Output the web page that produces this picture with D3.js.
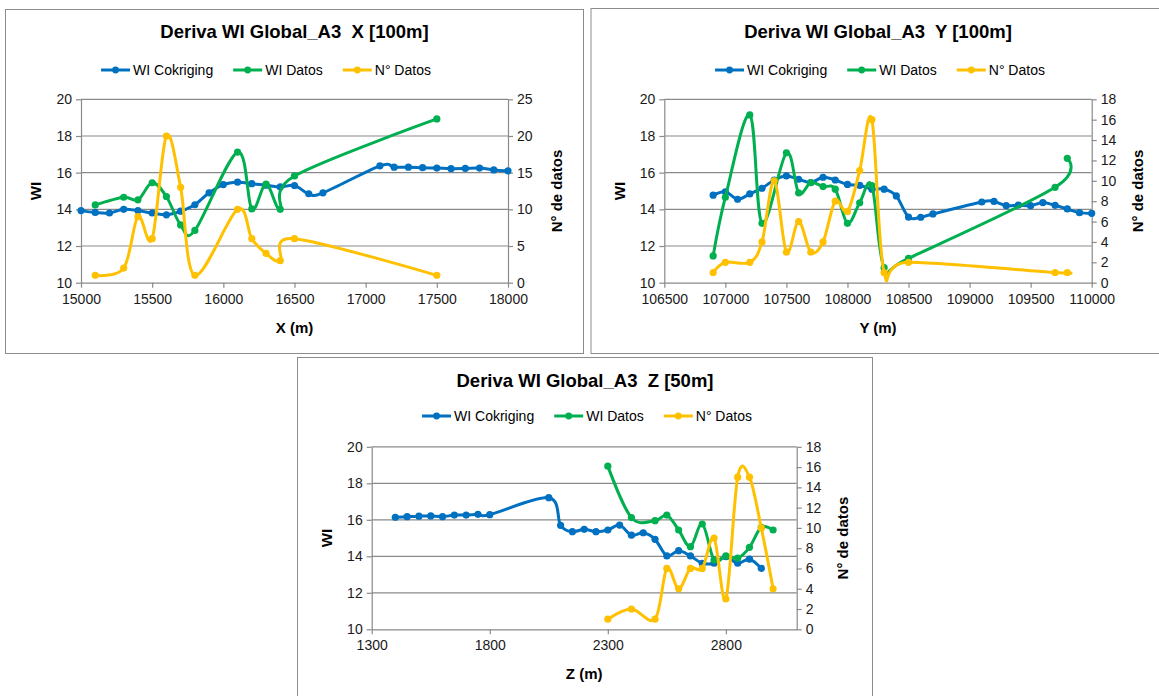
<!DOCTYPE html>
<html><head><meta charset="utf-8">
<script src="https://cdn.jsdelivr.net/npm/d3@7"></script>
<style>
html,body{margin:0;padding:0;background:#fff;}
svg{display:block;font-family:"Liberation Sans",Arial,sans-serif;}
</style></head>
<body>
<svg id="c" width="1159" height="696"></svg>
<script>
// ---------- Chart X ----------
const xCokX = [15000,15100,15200,15300,15400,15500,15600,15700,15800,15900,16000,16100,16200,16300,16400,16500,16600,16700,17100,17200,17300,17400,17500,17600,17700,17800,17900,18000];
const xCokWI = [13.93,13.83,13.8,14.0,13.93,13.8,13.7,13.9,14.25,14.9,15.35,15.48,15.4,15.32,15.22,15.3,14.85,14.9,16.37,16.3,16.3,16.27,16.25,16.22,16.23,16.25,16.15,16.1];
const xDatX = [15100,15300,15400,15500,15600,15700,15800,16100,16200,16300,16400,16500,17500];
const xDatWI = [14.24,14.66,14.52,15.45,14.7,13.15,12.85,17.12,14.02,15.38,14.0,15.82,18.93];
const xNumX = [15100,15300,15400,15500,15600,15700,15800,16100,16200,16300,16400,16500,17500];
const xNum = [1,2,9,6,20,13,1,10,6,4,3,6,1];

// ---------- Chart Y ----------
const yCokX = [106900,107000,107100,107200,107300,107400,107500,107600,107700,107800,107900,108000,108100,108200,108300,108400,108500,108600,108700,109100,109200,109300,109400,109500,109600,109700,109800,109900,110000];
const yCokWI = [14.77,14.96,14.55,14.84,15.15,15.6,15.82,15.64,15.46,15.75,15.6,15.36,15.31,15.1,15.1,14.73,13.58,13.57,13.75,14.4,14.43,14.2,14.23,14.2,14.37,14.22,14.02,13.82,13.78];
const yDatX = [106900,107000,107200,107300,107500,107600,107700,107800,107900,108000,108100,108200,108300,108500,109700,109800];
const yDatWI = [11.46,14.66,19.15,13.24,17.08,14.9,15.46,15.24,15.1,13.24,14.36,15.3,10.82,11.33,15.2,16.78];
const yNumX = [106900,107000,107200,107300,107400,107500,107600,107700,107800,107900,108000,108100,108200,108300,108500,109700,109800];
const yNum = [1,2,2,4,10,3,6,3,4,8,7,11,16,1,2,1,1];

// ---------- Chart Z ----------
const zCokX = [1400,1450,1500,1550,1600,1650,1700,1750,1800,2050,2100,2150,2200,2250,2300,2350,2400,2450,2500,2550,2600,2650,2700,2750,2800,2850,2900,2950];
const zCokWI = [16.14,16.17,16.2,16.21,16.17,16.26,16.26,16.3,16.28,17.21,15.7,15.35,15.48,15.35,15.44,15.71,15.16,15.29,14.93,14.02,14.31,14.02,13.62,13.62,13.98,13.62,13.84,13.34];
const zDatX = [2300,2400,2500,2550,2600,2650,2700,2750,2800,2850,2900,2950,3000];
const zDatWI = [18.94,16.12,15.95,16.26,15.44,14.53,15.77,13.8,14.02,13.9,14.49,15.59,15.44];
const zNumX = [2300,2400,2500,2550,2600,2650,2700,2750,2800,2850,2900,2950,3000];
const zNum = [1,2,1,6,4,6,6,9,3,15,15,10,4];

const seriesNames = ["WI Cokriging","WI Datos","N° Datos"];
const titles = ["Deriva WI Global_A3  X [100m]","Deriva WI Global_A3  Y [100m]","Deriva WI Global_A3  Z [50m]"];
const xTitles = ["X (m)","Y (m)","Z (m)"];
const leftTicks = [10,12,14,16,18,20];
const xTicksX = [15000,15500,16000,16500,17000,17500,18000];
const xTicksY = [106500,107000,107500,108000,108500,109000,109500,110000];
const xTicksZ = [1300,1800,2300,2800];
const rightTicksX = [0,5,10,15,20,25];
const rightTicksYZ = [0,2,4,6,8,10,12,14,16,18];

const colors = ["#0070C0","#00B050","#FFC000"];
const svg = d3.select("#c");

function drawChart(cfg){
  const g = svg.append("g");
  const p = cfg.panel;
  g.append("rect").attr("x",p.x).attr("y",p.y).attr("width",p.w).attr("height",p.h)
    .attr("fill","#fff").attr("stroke","#8c8c8c").attr("stroke-width",1);
  const pl = cfg.plot;
  const x = d3.scaleLinear().domain(cfg.xDomain).range([pl.l, pl.r]);
  const yL = d3.scaleLinear().domain([10,20]).range([pl.b, pl.t]);
  const yR = d3.scaleLinear().domain(cfg.rDomain).range([pl.b, pl.t]);

  // gridlines
  g.append("g").selectAll("line").data(leftTicks.filter(v=>v>10)).join("line")
    .attr("x1",pl.l).attr("x2",pl.r).attr("y1",d=>yL(d)).attr("y2",d=>yL(d))
    .attr("stroke","#8a8a8a").attr("stroke-width",1.2);

  const styleAxis = (sel)=>{
    sel.select(".domain").attr("stroke","#8a8a8a").attr("stroke-width",1.2);
    sel.selectAll(".tick line").attr("stroke","#8a8a8a").attr("stroke-width",1.2);
    sel.selectAll(".tick text").attr("fill","#1a1a1a").style("font-size","14px")
      .style("font-family","'Liberation Sans',Arial,sans-serif");
  };
  const ax = g.append("g").attr("transform",`translate(0,${pl.b})`)
    .call(d3.axisBottom(x).tickValues(cfg.xTicks).tickSize(5).tickSizeOuter(0).tickPadding(6).tickFormat(d3.format("d")));
  styleAxis(ax);
  const al = g.append("g").attr("transform",`translate(${pl.l},0)`)
    .call(d3.axisLeft(yL).tickValues(leftTicks).tickSize(5).tickSizeOuter(0).tickPadding(4));
  styleAxis(al);
  const ar = g.append("g").attr("transform",`translate(${pl.r},0)`)
    .call(d3.axisRight(yR).tickValues(cfg.rTicks).tickSize(5).tickSizeOuter(0).tickPadding(4));
  styleAxis(ar);

  // title
  g.append("text").attr("x",p.x+p.w/2 + (cfg.titleDx||0)).attr("y",cfg.titleY).attr("text-anchor","middle")
    .style("white-space","pre")
    .attr("font-size","18.5px").attr("font-weight","bold").attr("fill","#000").text(cfg.title);

  // axis titles
  g.append("text").attr("x",(pl.l+pl.r)/2).attr("y",pl.b+50).attr("text-anchor","middle")
    .attr("font-size","15px").attr("font-weight","bold").attr("fill","#000").text(cfg.xTitle);
  g.append("text").attr("transform",`translate(${cfg.wiX},${(pl.t+pl.b)/2}) rotate(-90)`).attr("text-anchor","middle")
    .attr("dy","0.35em").attr("font-size","15px").attr("font-weight","bold").attr("fill","#000").text("WI");
  g.append("text").attr("transform",`translate(${cfg.ndX},${(pl.t+pl.b)/2}) rotate(-90)`).attr("text-anchor","middle")
    .attr("dy","0.35em").attr("font-size","15px").attr("font-weight","bold").attr("fill","#000").text("N° de datos");

  // series
  const series = [
    {xs:cfg.s[0][0], ys:cfg.s[0][1], y:yL, c:colors[0]},
    {xs:cfg.s[1][0], ys:cfg.s[1][1], y:yL, c:colors[1]},
    {xs:cfg.s[2][0], ys:cfg.s[2][1], y:yR, c:colors[2]}
  ];
  const clipId = "clip"+cfg.id;
  g.append("clipPath").attr("id",clipId).append("rect")
    .attr("x",pl.l-6).attr("y",pl.t-8).attr("width",pl.r-pl.l+12).attr("height",pl.b-pl.t+12);
  series.forEach(s=>{
    const pts = s.xs.map((v,i)=>[x(v), s.y(s.ys[i])]);
    const line = d3.line().curve(d3.curveCardinal.tension(0));
    g.append("path").attr("d",line(pts)).attr("fill","none").attr("stroke",s.c)
      .attr("stroke-width",3).attr("stroke-linejoin","round").attr("clip-path",`url(#${clipId})`);
    g.append("g").selectAll("circle").data(pts).join("circle")
      .attr("cx",d=>d[0]).attr("cy",d=>d[1]).attr("r",3.6).attr("fill",s.c);
  });

  // legend
  const lg = g.append("g");
  let cx = 0;
  seriesNames.forEach((n,i)=>{
    const it = lg.append("g");
    it.append("line").attr("x1",0).attr("x2",29).attr("y1",0).attr("y2",0).attr("stroke",colors[i]).attr("stroke-width",3);
    it.append("circle").attr("cx",14.5).attr("cy",0).attr("r",3.4).attr("fill",colors[i]);
    const t = it.append("text").attr("x",32).attr("y",0).attr("dy","0.35em").attr("font-size","14px").attr("fill","#000").text(n);
    const w = 32 + t.node().getComputedTextLength();
    it.attr("transform",`translate(${cx},0)`);
    cx += w + 20;
  });
  const total = cx - 20;
  lg.attr("transform",`translate(${cfg.legendCx - total/2},${cfg.legendY})`);
}

drawChart({id:1, panel:{x:5.5,y:9.5,w:578,h:344}, plot:{l:81,r:508,t:99.3,b:282.7},
  xDomain:[15000,18000], xTicks:xTicksX, rDomain:[0,25], rTicks:rightTicksX,
  title:titles[0], titleY:38, xTitle:xTitles[0], wiX:36, ndX:557, legendCx:266, legendY:70,
  s:[[xCokX,xCokWI],[xDatX,xDatWI],[xNumX,xNum]]});
drawChart({id:2, panel:{x:591,y:8.5,w:580,h:345}, plot:{l:664.3,r:1091.7,t:99.3,b:282.7},
  xDomain:[106500,110000], xTicks:xTicksY, rDomain:[0,18], rTicks:rightTicksYZ,
  title:titles[1], titleY:38, titleDx:-3, xTitle:xTitles[1], wiX:620, ndX:1138, legendCx:880, legendY:70,
  s:[[yCokX,yCokWI],[yDatX,yDatWI],[yNumX,yNum]]});
drawChart({id:3, panel:{x:297.5,y:357.5,w:575,h:345}, plot:{l:371.7,r:796.7,t:446.8,b:629.3},
  xDomain:[1300,3100], xTicks:xTicksZ, rDomain:[0,18], rTicks:rightTicksYZ,
  title:titles[2], titleY:387, xTitle:xTitles[2], wiX:327, ndX:843, legendCx:587, legendY:416,
  s:[[zCokX,zCokWI],[zDatX,zDatWI],[zNumX,zNum]]});
</script>
</body></html>
